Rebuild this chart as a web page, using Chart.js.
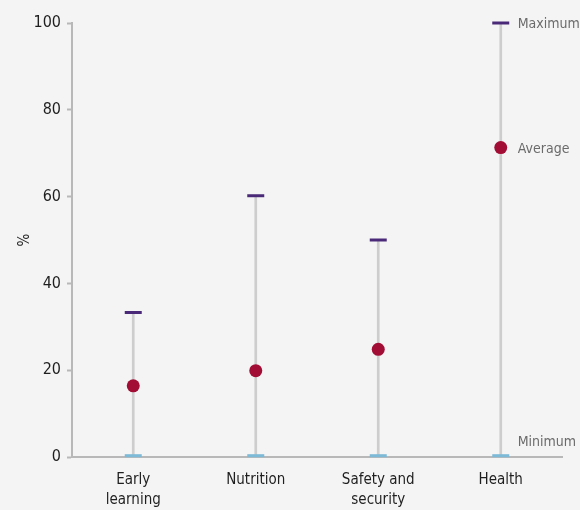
<!DOCTYPE html>
<html>
<head>
<meta charset="utf-8">
<script src="https://cdn.jsdelivr.net/npm/chart.js@4"></script>
<style>
  html, body { margin: 0; padding: 0; background: #f4f4f4; }
  #wrap { width: 580px; height: 510px; }
</style>
</head>
<body>
<div id="wrap"><canvas id="rangeChart" width="580" height="510"></canvas></div>
<script>
// Data
const categories = [['Early', 'learning'], 'Nutrition', ['Safety and', 'security'], 'Health'];
const minValues = [0, 0, 0, 0];
const maxValues = [33.3, 60.2, 50, 100];
const avgValues = [16.4, 19.9, 24.8, 71.3];
const yTicks = [0, 20, 40, 60, 80, 100];
const markerLabels = ['Maximum', 'Average', 'Minimum'];

const fontFamily = '"DejaVu Sans Condensed", "Liberation Sans Narrow", sans-serif';

// Labels next to the last category
const markerLabelPlugin = {
    id: 'markerLabels',
    afterDatasetsDraw(chart) {
        const ctx = chart.ctx;
        const x = chart.scales.x;
        const y = chart.scales.y;
        const last = categories.length - 1;
        const px = x.getPixelForValue(last) + 17;
        ctx.save();
        ctx.font = '14px ' + fontFamily;
        ctx.fillStyle = '#6b6b6b';
        ctx.textBaseline = 'middle';
        ctx.textAlign = 'left';
        ctx.fillText(markerLabels[0], px, y.getPixelForValue(maxValues[last]) + 1);
        ctx.fillText(markerLabels[1], px, y.getPixelForValue(avgValues[last]) + 2);
        ctx.fillText(markerLabels[2], px, y.getPixelForValue(minValues[last]) - 15);
        ctx.restore();
    }
};

const ctx = document.getElementById('rangeChart').getContext('2d');
new Chart(ctx, {
    type: 'bar',
    data: {
        labels: categories,
        datasets: [{
            type: 'line',
            label: 'Average',
            data: avgValues,
            showLine: false,
            clip: false,
            pointStyle: 'circle',
            pointRadius: 6.5,
            pointBackgroundColor: '#a20d35',
            pointBorderWidth: 0,
            order: 0
        }, {
            type: 'line',
            label: 'Maximum',
            data: maxValues,
            showLine: false,
            clip: false,
            pointStyle: 'line',
            pointRadius: 8.5,
            pointBorderColor: '#4a2a78',
            pointBorderWidth: 3,
            order: 1
        }, {
            type: 'line',
            label: 'Minimum',
            data: minValues.map(v => v + 0.3),
            showLine: false,
            clip: false,
            pointStyle: 'line',
            pointRadius: 8.5,
            pointBorderColor: '#7cbad8',
            pointBorderWidth: 3,
            order: 1
        }, {
            label: 'Range',
            data: minValues.map((v, i) => [v, maxValues[i]]),
            backgroundColor: '#cdcdcd',
            barThickness: 2,
            order: 5
        }]
    },
    options: {
        responsive: false,
        animation: false,
        layout: { padding: { top: 23, right: 18, left: 0, bottom: 0 } },
        plugins: {
            legend: { display: false },
            tooltip: { enabled: false }
        },
        scales: {
            x: {
                afterFit(scale) { scale.height = 53; },
                grid: { display: false, drawTicks: false },
                border: { color: '#b8b8b8', width: 2 },
                ticks: {
                    color: '#1f1f1f',
                    padding: 13,
                    maxRotation: 0,
                    font: { family: fontFamily, size: 15, lineHeight: 1.33 }
                }
            },
            y: {
                min: 0,
                max: 100,
                afterFit(scale) { scale.width = 72; },
                afterBuildTicks(scale) {
                    scale.ticks = yTicks.map(v => ({ value: v }));
                },
                grid: {
                    display: true,
                    drawOnChartArea: false,
                    drawTicks: true,
                    tickLength: 5,
                    color: '#b8b8b8',
                    tickWidth: 2
                },
                border: { color: '#b8b8b8', width: 2 },
                title: {
                    display: true,
                    text: '%',
                    color: '#1f1f1f',
                    padding: { top: 16, bottom: 0 },
                    font: { family: fontFamily, size: 15 }
                },
                ticks: {
                    color: '#1f1f1f',
                    padding: 6,
                    font: { family: fontFamily, size: 16 }
                }
            }
        }
    },
    plugins: [markerLabelPlugin]
});
</script>
</body>
</html>
